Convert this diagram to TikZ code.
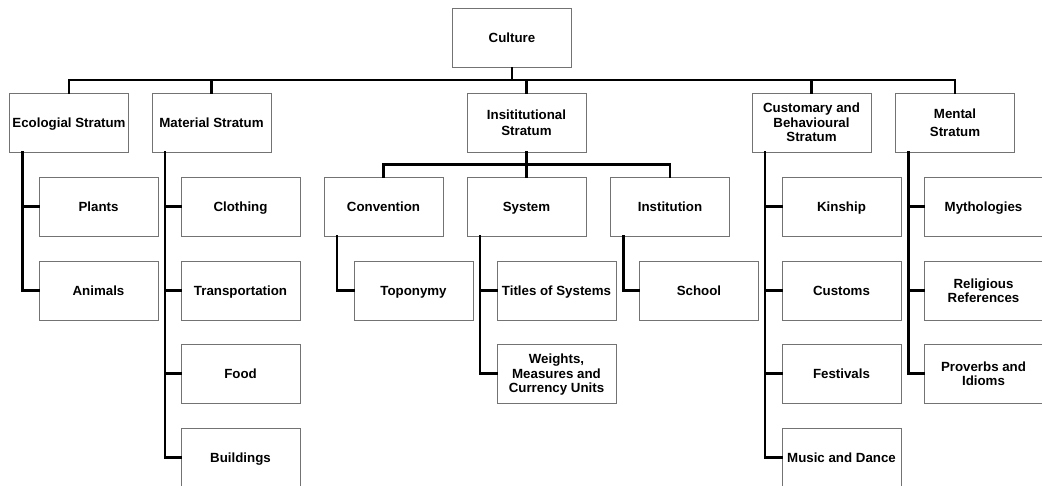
\documentclass[tikz,border=0pt]{standalone}
\usepackage{fontspec}
\setmainfont{Liberation Sans}
\tikzset{
  strat/.style={draw=black!55, line width=0.9pt, fill=white, minimum width=119pt, minimum height=59pt,
    inner sep=1pt, align=center, font=\fontsize{13.3}{14.5}\selectfont\bfseries,
    text depth=0pt, execute at begin node={\rule{0pt}{9.5pt}}},
  link/.style={line width=2.6pt, line cap=rect}
}
\begin{document}
\begin{tikzpicture}[x=1pt, y=-1pt]
\useasboundingbox (0,0) rectangle (1042,486);
% top and first level
\node[strat] (cul) at (512,38) {Culture};
\node[strat] (eco) at (69,122.5) {Ecologial Stratum};
\node[strat] (mat) at (211.5,122.5) {Material Stratum};
\node[strat] (ins) at (526.5,122.5) {Insititutional\\[1.8pt]Stratum};
\node[strat] (cus) at (811.5,122.5) {Customary and\\Behavioural\\Stratum};
\node[strat] (men) at (955,122.5) {Mental\\[3.5pt]Stratum};
% second level
\node[strat] (pla) at (98.5,206.5) {Plants};
\node[strat] (ani) at (98.5,290.5) {Animals};
\node[strat] (clo) at (240.5,206.5) {Clothing};
\node[strat] (tra) at (240.5,290.5) {Transportation};
\node[strat] (foo) at (240.5,373.5) {Food};
\node[strat] (bui) at (240.5,457.5) {Buildings};
\node[strat] (con) at (383.5,206.5) {Convention};
\node[strat] (sys) at (526.5,206.5) {System};
\node[strat] (ist) at (670,206.5) {Institution};
\node[strat] (top) at (413.5,290.5) {Toponymy};
\node[strat] (tit) at (556.5,290.5) {Titles of Systems};
\node[strat] (wei) at (556.5,373.5) {Weights,\\Measures and\\Currency Units};
\node[strat] (sch) at (699,290.5) {School};
\node[strat] (kin) at (841.5,206.5) {Kinship};
\node[strat] (cst) at (841.5,290.5) {Customs};
\node[strat] (fes) at (841.5,373.5) {Festivals};
\node[strat] (mus) at (841.5,457.5) {Music and Dance};
\node[strat] (myt) at (983.5,206.5) {Mythologies};
\node[strat] (rel) at (983.5,290.5) {Religious\\References};
\node[strat] (pro) at (983.5,373.5) {Proverbs and\\Idioms};
% buses
\foreach \n in {eco,mat,ins,cus,men}
  \draw[link] (cul.south) -- ++(0,12) -| (\n.north);
\foreach \n in {con,sys,ist}
  \draw[link] (ins.south) -- ++(0,12) -| (\n.north);
% trunks
\foreach \p/\c in {eco/pla,eco/ani,mat/clo,mat/tra,mat/foo,mat/bui,con/top,sys/tit,sys/wei,ist/sch,cus/kin,cus/cst,cus/fes,cus/mus,men/myt,men/rel,men/pro}
  \draw[link] ([xshift=13.5pt]\p.south west) |- (\c.west);
\end{tikzpicture}
\end{document}
